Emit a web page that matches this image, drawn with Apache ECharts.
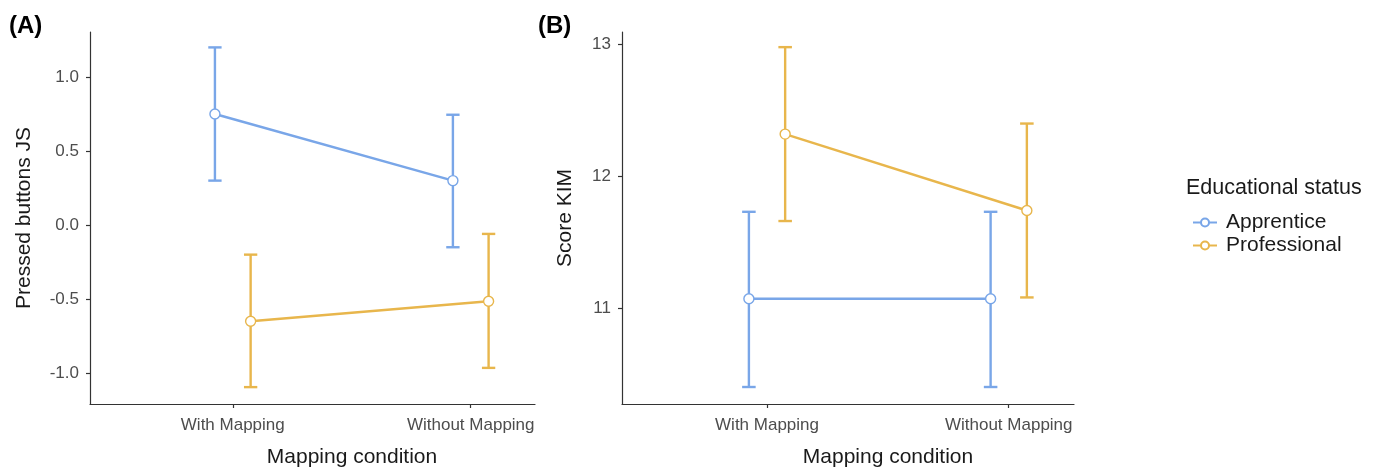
<!DOCTYPE html>
<html><head><meta charset="utf-8">
<script src="https://cdn.jsdelivr.net/npm/echarts@6/dist/echarts.min.js"></script>
<style>html,body{margin:0;padding:0;background:#fff}#c{width:1381px;height:470px}</style>
</head><body><div id="c"></div>
<script>
const categories = ["With Mapping", "Without Mapping"];
const groups = ["Apprentice", "Professional"];
const colors = ["#79A6E8", "#E8B64C"];
// Panel A: Pressed buttons JS
const aApprenticeMean = [0.75, 0.30];
const aApprenticeLow = [0.30, -0.15];
const aApprenticeHigh = [1.20, 0.745];
const aProfessionalMean = [-0.65, -0.515];
const aProfessionalLow = [-1.095, -0.965];
const aProfessionalHigh = [-0.20, -0.06];
// Panel B: Score KIM
const bApprenticeMean = [11.07, 11.07];
const bApprenticeLow = [10.40, 10.40];
const bApprenticeHigh = [11.73, 11.73];
const bProfessionalMean = [12.32, 11.74];
const bProfessionalLow = [11.66, 11.08];
const bProfessionalHigh = [12.98, 12.40];
const aTicks = [-1.0, -0.5, 0.0, 0.5, 1.0];
const bTicks = [11, 12, 13];

const FONT = "Liberation Sans";
const dodge = 0.075;
const capHalf = 0.028;

function pts(mean, off) { return mean.map((v, i) => [i + 1 + off, v]); }
function errs(mean, lo, hi, off) { return mean.map((v, i) => [i + 1 + off, lo[i], hi[i]]); }

function errSeries(data, color, idx) {
  return {
    type: 'custom', xAxisIndex: idx, yAxisIndex: idx, z: 2, silent: true,
    data: data,
    renderItem: function (params, api) {
      const x = api.value(0);
      const lo = api.coord([x, api.value(1)]);
      const hi = api.coord([x, api.value(2)]);
      const l = api.coord([x - capHalf, api.value(1)]);
      const r = api.coord([x + capHalf, api.value(1)]);
      const half = (r[0] - l[0]) / 2;
      const st = { stroke: color, lineWidth: 2.4 };
      return { type: 'group', children: [
        { type: 'line', shape: { x1: lo[0], y1: lo[1], x2: hi[0], y2: hi[1] }, style: st },
        { type: 'line', shape: { x1: lo[0] - half, y1: lo[1], x2: lo[0] + half, y2: lo[1] }, style: st },
        { type: 'line', shape: { x1: hi[0] - half, y1: hi[1], x2: hi[0] + half, y2: hi[1] }, style: st }
      ]};
    }
  };
}
function lineSeries(name, data, color, idx) {
  return {
    type: 'line', name: name, xAxisIndex: idx, yAxisIndex: idx, z: 3,
    data: data, symbol: 'circle', symbolSize: 10,
    lineStyle: { color: color, width: 2.4 },
    itemStyle: { color: '#fff', borderColor: color, borderWidth: 1.4 },
    emphasis: { disabled: true }
  };
}

const axisLine = { show: true, onZero: false, lineStyle: { color: '#333', width: 1.2 } };
const axisTick = { show: true, length: 4, lineStyle: { color: '#333', width: 1.2 } };
function xAxis(idx) {
  return {
    type: 'value', gridIndex: idx, min: 0.4, max: 2.27,
    axisLine: axisLine,
    axisTick: Object.assign({ customValues: [1, 2] }, axisTick),
    axisLabel: { customValues: [1, 2], formatter: v => categories[Math.round(v) - 1], color: '#4d4d4d', fontSize: 17, fontFamily: FONT, margin: 13 },
    splitLine: { show: false }
  };
}
function yAxis(idx, min, max, ticks, name, gap, fmt) {
  return {
    type: 'value', gridIndex: idx, min: min, max: max,
    name: name, nameLocation: 'middle', nameGap: gap,
    nameTextStyle: { color: '#1a1a1a', fontSize: 21, fontFamily: FONT },
    axisLine: axisLine,
    axisTick: Object.assign({ customValues: ticks }, axisTick),
    axisLabel: { customValues: ticks, formatter: fmt, color: '#4d4d4d', fontSize: 17, fontFamily: FONT, margin: 11 },
    splitLine: { show: false }
  };
}

const chart = echarts.init(document.getElementById('c'), null, { renderer: 'canvas' });
chart.setOption({
  animation: false,
  backgroundColor: '#fff',
  grid: [
    { left: 90, top: 32, width: 445, height: 372 },
    { left: 622, top: 32, width: 452, height: 372 }
  ],
  xAxis: [xAxis(0), xAxis(1)],
  yAxis: [
    yAxis(0, -1.209, 1.304, aTicks, 'Pressed buttons JS', 55, v => v.toFixed(1)),
    yAxis(1, 10.271, 13.095, bTicks, 'Score KIM', 46, v => String(Math.round(v)))
  ],
  legend: {
    left: 1187, top: 207, orient: 'vertical', itemWidth: 24, itemHeight: 10, itemGap: 2,
    data: groups,
    textStyle: { color: '#1a1a1a', fontSize: 21, fontFamily: FONT, padding: [0, 0, 0, 4] },
    selectedMode: false
  },
  graphic: [
    { type: 'text', left: 9, top: 14, style: { text: '(A)', font: 'bold 24px ' + FONT, fill: '#000' } },
    { type: 'text', left: 538, top: 14, style: { text: '(B)', font: 'bold 24px ' + FONT, fill: '#000' } },
    { type: 'text', x: 352, y: 457, style: { text: 'Mapping condition', font: '21px ' + FONT, fill: '#1a1a1a', align: 'center', verticalAlign: 'middle' } },
    { type: 'text', x: 888, y: 457, style: { text: 'Mapping condition', font: '21px ' + FONT, fill: '#1a1a1a', align: 'center', verticalAlign: 'middle' } },
    { type: 'text', left: 1186, top: 177, style: { text: 'Educational status', font: '21.5px ' + FONT, fill: '#1a1a1a' } }
  ],
  series: [
    errSeries(errs(aApprenticeMean, aApprenticeLow, aApprenticeHigh, -dodge), colors[0], 0),
    errSeries(errs(aProfessionalMean, aProfessionalLow, aProfessionalHigh, dodge), colors[1], 0),
    lineSeries(groups[0], pts(aApprenticeMean, -dodge), colors[0], 0),
    lineSeries(groups[1], pts(aProfessionalMean, dodge), colors[1], 0),
    errSeries(errs(bApprenticeMean, bApprenticeLow, bApprenticeHigh, -dodge), colors[0], 1),
    errSeries(errs(bProfessionalMean, bProfessionalLow, bProfessionalHigh, dodge), colors[1], 1),
    lineSeries(groups[0], pts(bApprenticeMean, -dodge), colors[0], 1),
    lineSeries(groups[1], pts(bProfessionalMean, dodge), colors[1], 1)
  ]
});
</script></body></html>
